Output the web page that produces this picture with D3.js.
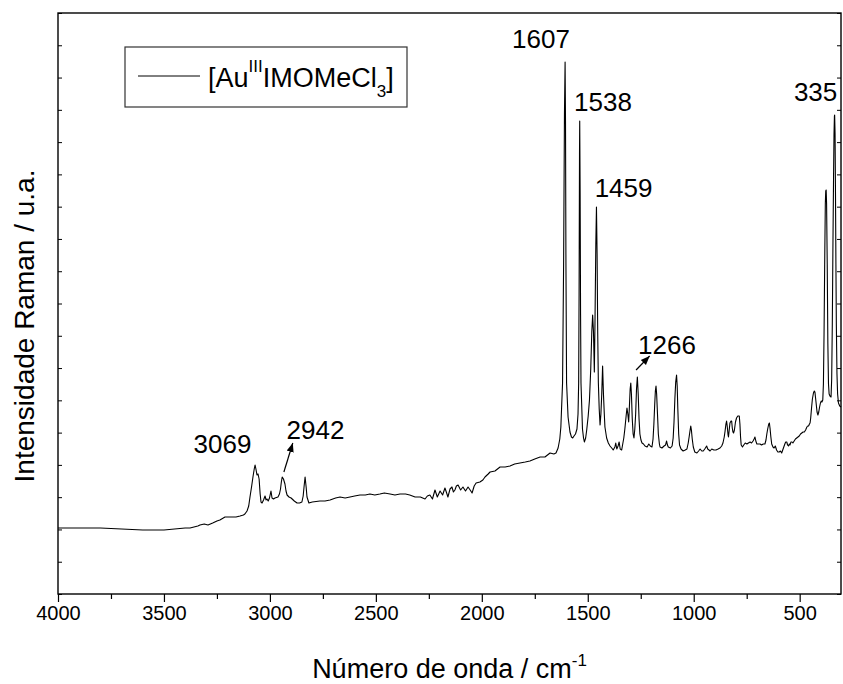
<!DOCTYPE html>
<html lang="pt">
<head>
    <meta charset="UTF-8">
    <title>Espectro Raman</title>
    <script src="https://d3js.org/d3.v7.min.js"></script>
    <style>
        body { margin: 0; background: #fff; }
        svg text { font-family: "Liberation Sans", Arial, sans-serif; fill: #000; }
    </style>
</head>
<body>

<svg id="svg-container" width="843" height="684"></svg>
<script>

    // spectrum: [wavenumber (cm-1), intensity (a.u.)]
    const spectrum = [
        [4000,66],[3900,66],[3800,66],[3700,65],[3600,64],[3500,64],[3450,65],[3400,66],[3377,66],[3340,68],
        [3330,69],[3310,70],[3292,69],[3270,71],[3250,73],[3236,74],[3220,76],[3212,77],[3190,77],[3160,77],
        [3141,78],[3125,79],[3118,80],[3108,83],[3100,88],[3094,97],[3086,108],[3080,117],[3074,125],[3070,129],
        [3066,125],[3061,119],[3056,120],[3051,115],[3046,100],[3042,92],[3037,91],[3030,94],[3023,98],[3018,94],
        [3014,95],[3008,93],[3002,96],[2995,103],[2990,96],[2983,95],[2976,96],[2962,97],[2955,100],[2950,105],
        [2946,112],[2942,117],[2936,115],[2929,110],[2924,103],[2919,99],[2910,97],[2900,96],[2885,93],[2872,91],
        [2860,91],[2849,92],[2843,98],[2839,107],[2834,117],[2829,107],[2825,97],[2816,91],[2800,92],[2764,93],
        [2740,93],[2716,94],[2690,96],[2669,97],[2645,96],[2622,97],[2600,98],[2575,99],[2550,99],[2528,100],
        [2505,99],[2481,100],[2460,101],[2433,100],[2410,99],[2386,100],[2360,100],[2340,99],[2315,97],[2290,97],
        [2268,95],[2257,98],[2245,99],[2233,95],[2221,104],[2210,97],[2197,103],[2185,99],[2174,106],[2166,101],
        [2160,97],[2150,105],[2141,107],[2134,102],[2127,104],[2120,108],[2112,109],[2100,104],[2089,107],[2077,103],
        [2065,107],[2055,104],[2046,101],[2036,108],[2027,111],[2009,112],[1995,114],[1985,117],[1970,120],[1961,122],
        [1938,123],[1914,127],[1890,127],[1867,128],[1845,130],[1820,131],[1795,132],[1773,133],[1750,135],[1725,137],
        [1702,137],[1678,141],[1660,140],[1650,141],[1640,146],[1632,155],[1627,167],[1619,211],[1614,330],[1610,480],
        [1607,532],[1605,470],[1603,330],[1600,211],[1593,177],[1584,162],[1577,157],[1571,156],[1565,158],[1558,160],
        [1551,165],[1546,180],[1543,211],[1541,300],[1539,440],[1538,473],[1536,400],[1534,280],[1532,211],[1525,165],
        [1520,156],[1516,152],[1510,156],[1505,164],[1498,178],[1492,194],[1486,225],[1481,262],[1477,279],[1473,262],
        [1469,222],[1466,270],[1462,350],[1459,387],[1456,340],[1453,260],[1450,211],[1446,185],[1442,169],[1438,180],
        [1434,200],[1430,228],[1426,200],[1422,180],[1419,167],[1411,156],[1403,151],[1395,148],[1387,146],[1380,144],
        [1372,147],[1368,151],[1363,145],[1357,148],[1352,152],[1347,145],[1340,144],[1335,150],[1330,156],[1325,165],
        [1319,178],[1315,186],[1311,180],[1307,172],[1304,185],[1300,205],[1297,211],[1294,200],[1290,175],[1286,160],
        [1282,156],[1278,165],[1274,180],[1270,205],[1266,217],[1262,200],[1258,175],[1254,160],[1249,154],[1244,151],
        [1237,150],[1230,148],[1220,147],[1212,150],[1205,148],[1197,147],[1192,155],[1188,170],[1184,190],[1181,203],
        [1178,208],[1175,200],[1171,180],[1167,160],[1162,150],[1159,147],[1150,146],[1140,148],[1133,149],[1128,153],
        [1124,149],[1120,147],[1110,146],[1102,148],[1097,156],[1093,172],[1089,195],[1085,212],[1081,219],[1078,208],
        [1075,185],[1071,160],[1067,149],[1060,145],[1050,143],[1040,144],[1032,145],[1026,151],[1021,158],[1017,164],
        [1014,168],[1011,164],[1007,155],[1002,147],[995,142],[985,141],[977,143],[970,145],[962,143],[955,143],
        [948,145],[942,147],[939,148],[934,145],[928,144],[923,143],[915,145],[905,144],[895,144],[885,145],
        [876,146],[868,148],[862,151],[856,157],[852,163],[848,170],[845,173],[842,168],[838,159],[836,157],
        [833,163],[829,171],[824,173],[821,173],[818,166],[815,162],[812,161],[808,164],[803,172],[798,176],
        [792,178],[788,178],[785,178],[782,170],[779,157],[776,149],[770,147],[764,149],[757,151],[749,150],
        [742,151],[734,152],[727,151],[720,153],[715,155],[711,157],[707,153],[702,150],[695,150],[687,150],
        [680,149],[672,150],[664,150],[659,154],[655,160],[651,165],[646,170],[643,171],[640,166],[636,157],
        [632,150],[626,147],[621,146],[615,148],[609,144],[603,142],[597,142],[591,143],[585,141],[580,144],
        [575,147],[570,150],[566,152],[561,152],[557,149],[553,148],[549,150],[546,149],[541,152],[536,152],
        [532,151],[526,153],[520,155],[514,156],[508,157],[502,158],[496,160],[490,161],[484,162],[478,162],
        [472,164],[466,167],[462,168],[458,168],[454,170],[451,171],[448,176],[444,186],[440,195],[435,201],
        [431,203],[428,202],[425,196],[421,188],[418,182],[414,179],[410,182],[406,187],[402,191],[398,193],
        [395,192],[391,194],[388,210],[385,260],[382,330],[379,390],[377,403],[375,404],[373,390],[370,330],
        [367,250],[364,210],[361,200],[357,198],[352,197],[349,215],[346,270],[343,350],[340,420],[338,460],
        [336,478],[335,479],[333,460],[331,400],[329,330],[327,270],[324,220],[321,200],[317,191],[311,188],
        [305,187]
    ];

    const xMajorTicks = [4000, 3500, 3000, 2500, 2000, 1500, 1000, 500];
    const xMinorTicks = [3750, 3250, 2750, 2250, 1750, 1250, 750];
    const yMax = 581;
    const yTickCount = 18;

    // peak labels: text, position in data units
    const peakLabels = [
        {text: "1607", w: 1721, v: 546},
        {text: "1538", w: 1428, v: 483},
        {text: "1459", w: 1331, v: 397},
        {text: "1266", w: 1126, v: 240},
        {text: "335", w: 425, v: 493},
        {text: "3069", w: 3224, v: 141},
        {text: "2942", w: 2785, v: 155}
    ];

    // arrows: from (w1,v1) to (w2,v2)
    const arrows = [
        {w1: 2934, v1: 122, w2: 2892, v2: 151},
        {w1: 1272, v1: 224, w2: 1208, v2: 238}
    ];

    const seriesName = {main: "[Au", sup: "III", rest: "IMOMeCl", sub: "3", end: "]"};

    window.onload = function () {

        const svg = d3.select("#svg-container");
        const left = 58, right = 841, top = 13, bottom = 594;

        const x = d3.scaleLinear().domain([4000, 305]).range([left, right]);
        const y = d3.scaleLinear().domain([0, yMax]).range([bottom, top]);
        const yTicks = d3.range(0, yTickCount + 1).map(i => i * yMax / yTickCount);

        svg.append("defs").append("marker")
            .attr("id", "arrowhead")
            .attr("viewBox", "0 0 10 10")
            .attr("refX", 10).attr("refY", 5)
            .attr("markerWidth", 9).attr("markerHeight", 9)
            .attr("markerUnits", "userSpaceOnUse")
            .attr("orient", "auto")
            .append("path")
            .attr("d", "M0,1 L10,5 L0,9 z")
            .attr("fill", "#000");

        // bottom axis, major + minor ticks
        const xAxis = svg.append("g")
            .attr("transform", `translate(0,${bottom})`)
            .call(d3.axisBottom(x).tickValues(xMajorTicks).tickSize(8).tickPadding(4).tickFormat(d3.format("d")));
        xAxis.select(".domain").remove();
        xAxis.selectAll("text").style("font-size", "20px");
        xAxis.selectAll("line").attr("stroke", "#000").attr("stroke-width", 1.2);

        const xMinor = svg.append("g")
            .attr("transform", `translate(0,${bottom})`)
            .call(d3.axisBottom(x).tickValues(xMinorTicks).tickSize(5).tickFormat(""));
        xMinor.select(".domain").remove();
        xMinor.selectAll("line").attr("stroke", "#000").attr("stroke-width", 1.2);

        // left + right ticks pointing inward, no labels
        const yLeft = svg.append("g")
            .attr("transform", `translate(${left},0)`)
            .call(d3.axisLeft(y).tickValues(yTicks).tickSize(-4).tickFormat(""));
        yLeft.select(".domain").remove();

        const yRight = svg.append("g")
            .attr("transform", `translate(${right},0)`)
            .call(d3.axisRight(y).tickValues(yTicks).tickSize(-4).tickFormat(""));
        yRight.select(".domain").remove();

        // frame
        svg.append("rect")
            .attr("x", left).attr("y", top)
            .attr("width", right - left).attr("height", bottom - top)
            .attr("fill", "none").attr("stroke", "#000").attr("stroke-width", 1.4);

        // spectrum
        const line = d3.line().x(d => x(d[0])).y(d => y(d[1]));
        svg.append("path")
            .datum(spectrum)
            .attr("d", line)
            .attr("fill", "none")
            .attr("stroke", "#000")
            .attr("stroke-width", 1.1)
            .attr("stroke-linejoin", "round");

        // peak labels
        svg.selectAll("text.peak")
            .data(peakLabels)
            .enter()
            .append("text")
            .attr("class", "peak")
            .attr("x", d => x(d.w))
            .attr("y", d => y(d.v))
            .attr("text-anchor", "middle")
            .style("font-size", "26px")
            .text(d => d.text);

        svg.selectAll("line.arrow")
            .data(arrows)
            .enter()
            .append("line")
            .attr("class", "arrow")
            .attr("x1", d => x(d.w1)).attr("y1", d => y(d.v1))
            .attr("x2", d => x(d.w2)).attr("y2", d => y(d.v2))
            .attr("stroke", "#000").attr("stroke-width", 1.2)
            .attr("marker-end", "url(#arrowhead)");

        // legend
        const legend = svg.append("g");
        legend.append("rect")
            .attr("x", 125).attr("y", 47).attr("width", 282).attr("height", 60)
            .attr("fill", "#fff").attr("stroke", "#333").attr("stroke-width", 1.2);
        legend.append("line")
            .attr("x1", 138).attr("x2", 200).attr("y1", 76).attr("y2", 76)
            .attr("stroke", "#000").attr("stroke-width", 1);
        const lt = legend.append("text")
            .attr("x", 208).attr("y", 87)
            .style("font-size", "27px");
        lt.append("tspan").text(seriesName.main);
        lt.append("tspan").attr("dy", -15).style("font-size", "17px").text(seriesName.sup);
        lt.append("tspan").attr("dy", 15).text(seriesName.rest);
        lt.append("tspan").attr("dy", 10).style("font-size", "17px").text(seriesName.sub);
        lt.append("tspan").attr("dy", -10).text(seriesName.end);

        // axis titles
        const xt = svg.append("text")
            .attr("x", (left + right) / 2).attr("y", 678)
            .attr("text-anchor", "middle")
            .style("font-size", "27px");
        xt.append("tspan").text("Número de onda / cm");
        xt.append("tspan").attr("dy", -12).style("font-size", "17px").text("-1");

        svg.append("text")
            .attr("transform", "translate(34,326) rotate(-90)")
            .attr("text-anchor", "middle")
            .style("font-size", "28px")
            .text("Intensidade Raman / u.a.");
    }

</script>

</body>
</html>
